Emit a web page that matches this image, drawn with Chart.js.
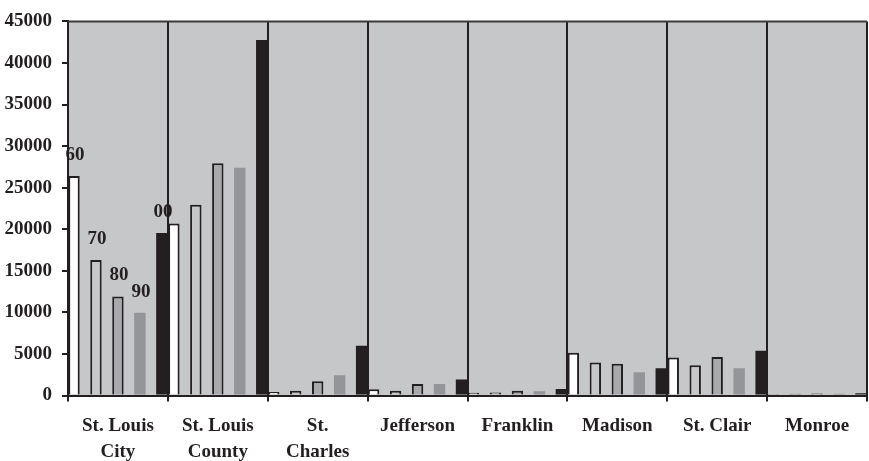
<!DOCTYPE html>
<html>
<head>
<meta charset="utf-8">
<script src="https://cdn.jsdelivr.net/npm/chart.js@4/dist/chart.umd.min.js"></script>
<style>
  html, body { margin: 0; padding: 0; background: #fff; }
  #wrap { width: 869px; height: 461px; }
</style>
</head>
<body>
<div id="wrap"><canvas id="myChart"></canvas></div>
<script>
// counties along the x axis
const categories = [
  ['St. Louis', 'City'], ['St. Louis', 'County'], ['St.', 'Charles'],
  'Jefferson', 'Franklin', 'Madison', 'St. Clair', 'Monroe'
];

// census values per decade
const yr1960 = [26400, 20700, 420, 740, 330, 5130, 4580, 180];
const yr1970 = [16300, 22950, 570, 570, 350, 3980, 3630, 210];
const yr1980 = [11900, 27950, 1720, 1370, 570, 3830, 4620, 230];
const yr1990 = [9950, 27400, 2440, 1370, 500, 2790, 3270, 200];
const yr2000 = [19550, 42750, 5970, 1930, 770, 3270, 5370, 260];

// little decade tags drawn over the first group
const seriesTags = ['60', '70', '80', '90', '00'];

const yTicks = [0, 5000, 10000, 15000, 20000, 25000, 30000, 35000, 40000, 45000];

const ink = '#231F20';
const plotBg = '#C6C7C9';
const serif = "'Liberation Serif', 'Times New Roman', serif";

const plotFrame = {
  id: 'plotFrame',
  beforeDraw(chart) {
    const { ctx, chartArea: a } = chart;
    ctx.save();
    ctx.fillStyle = plotBg;
    ctx.fillRect(a.left, a.top, a.right - a.left, a.bottom - a.top);
    ctx.restore();
  },
  afterDatasetsDraw(chart) {
    const { ctx, chartArea: a } = chart;
    ctx.save();
    ctx.strokeStyle = '#3a3a3a';
    ctx.lineWidth = 2;
    ctx.beginPath();
    ctx.moveTo(a.left, a.top);
    ctx.lineTo(a.right, a.top);
    ctx.stroke();

    // decade tags above the first group of bars
    ctx.fillStyle = ink;
    ctx.font = 'bold 19px ' + serif;
    ctx.textAlign = 'center';
    ctx.textBaseline = 'middle';
    seriesTags.forEach((t, i) => {
      const bar = chart.getDatasetMeta(i).data[0];
      ctx.fillText(t, bar.x + 1, bar.y - 21);
    });
    ctx.restore();
  }
};

const barBase = { borderColor: ink, borderWidth: 2, borderSkipped: 'start' };

new Chart(document.getElementById('myChart'), {
  type: 'bar',
  data: {
    labels: categories,
    datasets: [
      { ...barBase, label: '1960', data: yr1960, backgroundColor: '#FFFFFF' },
      { ...barBase, label: '1970', data: yr1970, backgroundColor: plotBg },
      { ...barBase, label: '1980', data: yr1980, backgroundColor: '#A7A9AC' },
      { ...barBase, label: '1990', data: yr1990, backgroundColor: '#939598', borderWidth: 0 },
      { ...barBase, label: '2000', data: yr2000, backgroundColor: ink, borderWidth: 0 }
    ]
  },
  options: {
    responsive: true,
    maintainAspectRatio: false,
    animation: false,
    categoryPercentage: 1.1,
    barPercentage: 0.52,
    layout: { padding: { top: 17, right: 2, left: 0, bottom: 0 } },
    plugins: {
      legend: { display: false },
      tooltip: { enabled: false }
    },
    scales: {
      x: {
        grid: {
          offset: true,
          color: ink,
          lineWidth: 2,
          drawTicks: true,
          tickLength: 6,
          tickColor: ink
        },
        border: { display: true, color: ink, width: 2 },
        ticks: {
          color: ink,
          padding: 12,
          maxRotation: 0,
          autoSkip: false,
          font: { family: serif, size: 19, weight: 'bold', lineHeight: 1.35 }
        },
        afterFit(scale) { scale.height = 65.5; }
      },
      y: {
        min: 0,
        max: 45000,
        afterBuildTicks(scale) { scale.ticks = yTicks.map(v => ({ value: v })); },
        grid: {
          drawOnChartArea: false,
          drawTicks: true,
          tickLength: 6,
          tickColor: ink,
          lineWidth: 2
        },
        border: { display: true, color: ink, width: 2 },
        ticks: {
          color: ink,
          padding: 10,
          callback: v => String(v),
          font: { family: serif, size: 19, weight: 'bold' }
        },
        afterFit(scale) { scale.width = 68; }
      }
    }
  },
  plugins: [plotFrame]
});
</script>
</body>
</html>
